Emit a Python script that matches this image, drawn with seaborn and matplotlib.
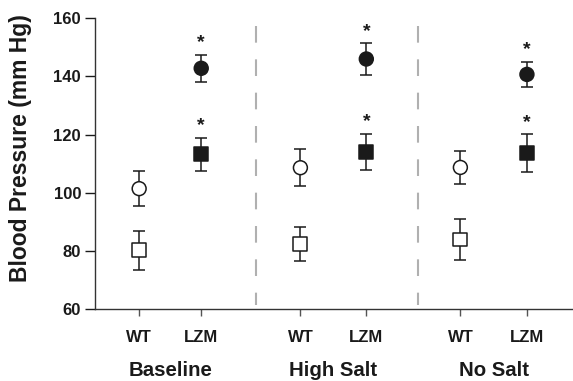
import numpy as np
import pandas as pd
import matplotlib
matplotlib.use("Agg")
import matplotlib.pyplot as plt
import matplotlib.transforms as mtransforms
import seaborn as sns

# ---- data ----
groups = ["Baseline", "High Salt", "No Salt"]
genotypes = ["WT", "LZM"]
circle_mean = [101.4, 142.8, 108.6, 146.0, 108.7, 140.7]
circle_err = [6.1, 4.7, 6.4, 5.4, 5.6, 4.3]
square_mean = [80.2, 113.2, 82.4, 114.0, 83.9, 113.6]
square_err = [6.7, 5.7, 5.9, 6.2, 7.0, 6.5]
significant = [False, True, False, True, False, True]
yticks = [60, 80, 100, 120, 140, 160]

# x positions of the six columns (layout)
xpos = [0.0, 0.97, 2.52, 3.55, 5.02, 6.06]
dividers = [1.83, 4.36]

rows = []
for i in range(6):
    g = groups[i // 2]
    gt = genotypes[i % 2]
    rows.append(dict(x=xpos[i], group=g, genotype=gt, measure="circle",
                     mean=circle_mean[i], err=circle_err[i], sig=significant[i]))
    rows.append(dict(x=xpos[i], group=g, genotype=gt, measure="square",
                     mean=square_mean[i], err=square_err[i], sig=significant[i]))
df = pd.DataFrame(rows)

sns.set_style("ticks")
plt.rcParams["font.family"] = ["Liberation Sans", "DejaVu Sans"]
plt.rcParams["font.weight"] = "bold"

fig = plt.figure(figsize=(5.73, 3.81), dpi=100)
ax = fig.add_axes([95 / 573, 1 - 309 / 381, 1 - 95 / 573, (309 - 18.3) / 381])

ink = "#1a1a1a"

for d in dividers:
    ax.plot([d, d], [157.5, 61.5], color="#b0b0b0", lw=1.5,
            linestyle=(0, (8, 8)), zorder=0)

ax.errorbar(df["x"], df["mean"], yerr=df["err"], fmt="none", ecolor=ink,
            elinewidth=1.1, capsize=4.6, capthick=1.1, zorder=2)

sns.scatterplot(data=df, x="x", y="mean", hue="genotype", style="measure",
                palette={"WT": "white", "LZM": ink},
                markers={"circle": "o", "square": "s"},
                s=100, edgecolor=ink, linewidth=1.1, legend=False,
                zorder=3, ax=ax)

for _, r in df[df["sig"]].iterrows():
    ax.annotate("*", xy=(r["x"], r["mean"] + r["err"]), xytext=(0, 2.5),
                textcoords="offset points", ha="center", va="bottom",
                fontsize=14, fontweight="bold", color=ink)

ax.set_xlim(-0.69, 6.78)
ax.set_ylim(60, 160)
ax.set_yticks(yticks)
ax.set_xticks(xpos)
ax.set_xticklabels([genotypes[i % 2] for i in range(6)])
ax.tick_params(axis="y", labelsize=12, length=7, width=1, color=ink,
               labelcolor=ink, pad=3)
ax.tick_params(axis="x", labelsize=12, length=5, width=1, color="#555555",
               labelcolor=ink, pad=10)
for lab in ax.get_xticklabels() + ax.get_yticklabels():
    lab.set_fontweight("bold")

ax.set_xlabel("")
ax.set_ylabel("Blood Pressure (mm Hg)", fontsize=16.5, fontweight="bold",
              color=ink)
ax.yaxis.set_label_coords((32 - 95) / (573 - 95), (309 - 148.5) / (309 - 18.3))

sns.despine(ax=ax)
for s in ["left", "bottom"]:
    ax.spines[s].set_color("#333333")
    ax.spines[s].set_linewidth(1.0)

trans = mtransforms.blended_transform_factory(ax.transData, fig.transFigure)
for gi, g in enumerate(groups):
    cx = (xpos[2 * gi] + xpos[2 * gi + 1]) / 2
    ax.text(cx, 1 - 370 / 381, g, transform=trans, ha="center", va="center",
            fontsize=14.7, fontweight="bold", color=ink)

fig.savefig("out.png", dpi=100)
